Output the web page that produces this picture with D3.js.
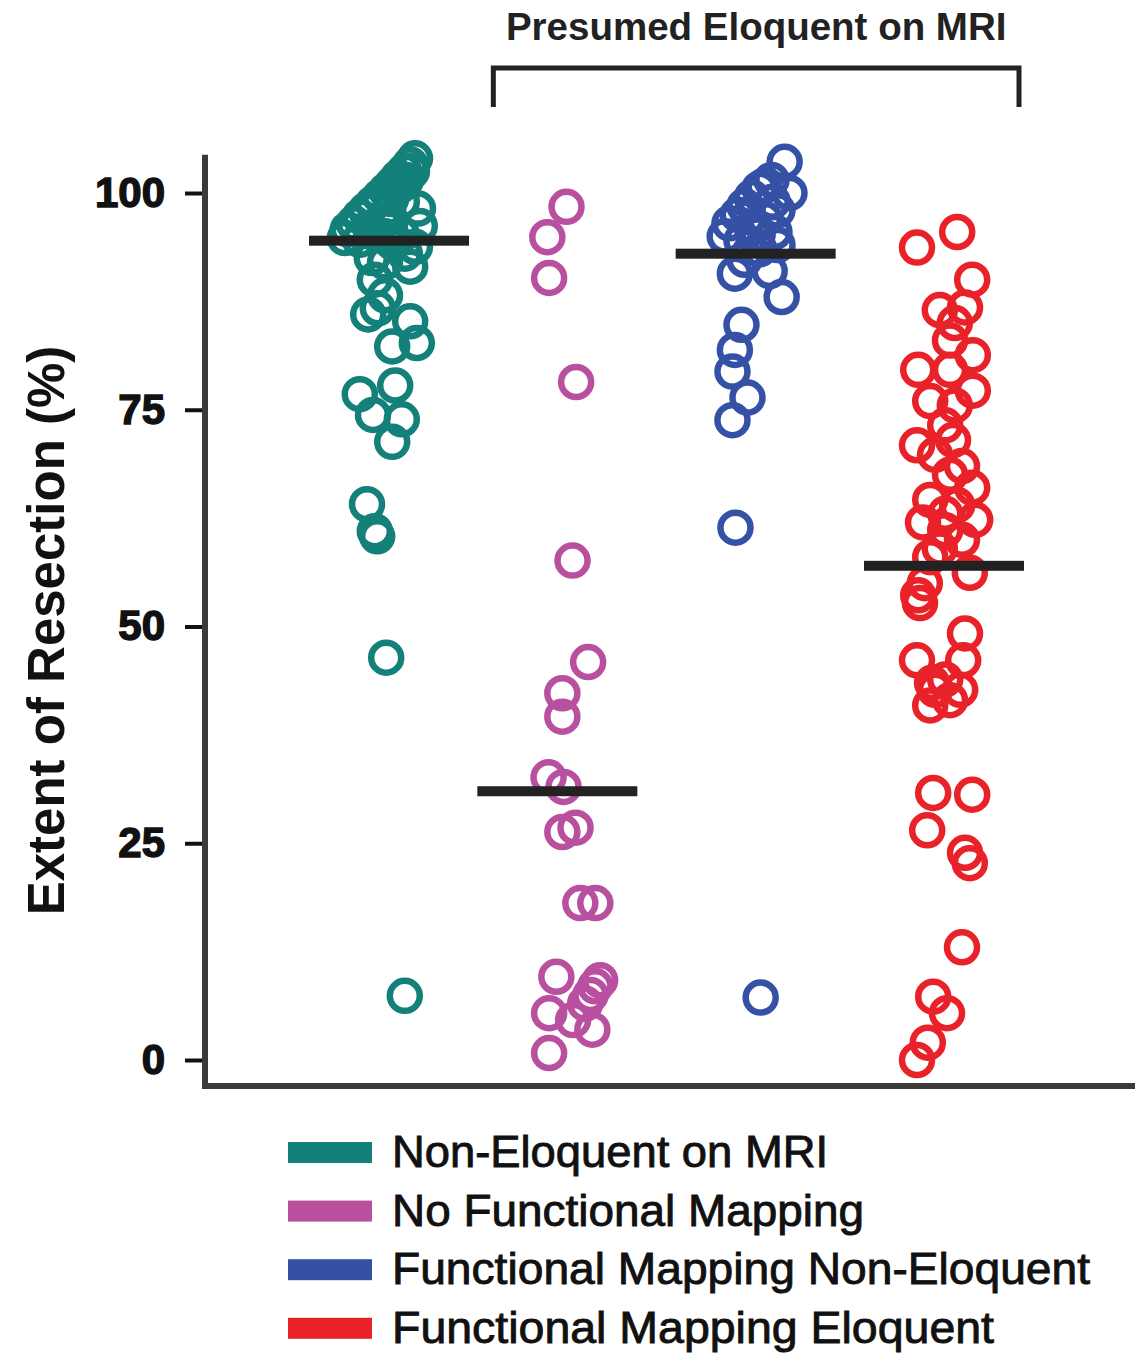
<!DOCTYPE html>
<html>
<head>
<meta charset="utf-8">
<script src="https://cdn.jsdelivr.net/npm/d3@7"></script>
<style>
  html, body { margin: 0; padding: 0; background: #fff; }
  svg { display: block; font-family: "Liberation Sans", Arial, Helvetica, sans-serif; }
</style>
</head>
<body>
<div id="chart"></div>
<script>
// groups in plot order
const groups = ['Non-Eloquent on MRI', 'No Functional Mapping', 'Functional Mapping Non-Eloquent', 'Functional Mapping Eloquent'];
const colors = ['#13807a', '#b8509f', '#3551a6', '#e92229'];
const yTicks = [0, 25, 50, 75, 100];
const medians = [94.5, 31, 93, 57];

// extent of resection (%) per patient, with the horizontal scatter (-1..1)
const nonEloquent = [104, 103.3, 102.5, 102.5, 101.8, 101.5, 101, 100.8, 100.3, 99.6, 99.3, 99, 98.8, 98.2, 98, 97.8, 97.3, 97, 96.8, 96.5, 96.2, 96, 95.8, 95.5, 95.2, 95, 94.8, 94.6, 94.3, 93.8, 93,
  92.5, 92, 91.5, 90, 88.2, 86.7, 86, 85.2, 82.7, 82.3, 77.8, 76.8, 74.4, 73.9, 71.3, 64.1, 61, 60.4, 46.4, 7.4];
const nonEloquentJit = [0.55, 0.47, 0.37, 0.5, 0.27, 0.4, 0.17, 0.3, 0.07, -0.03, 0.15, 0.33, -0.15, 0.6, -0.27, 0.1, -0.37, 0.1, 0.0, -0.47, 0.63, -0.2, -0.57, -0.17, 0.33, 0.05, -0.62, -0.37, 0.17, 0.55, 0.38,
  -0.17, 0.05, 0.47, -0.12, 0.05, -0.07, -0.23, 0.47, 0.58, 0.17, 0.22, -0.37, -0.15, 0.33, 0.17, -0.25, -0.12, -0.08, 0.07, 0.38];

const noMapping = [98.4, 94.9, 90.2, 78.2, 57.6, 45.9, 42.3, 39.6, 32.6, 31.5, 26.8, 26.3, 18.1, 18.1, 9.6, 9.2, 8.5, 7.5, 6.5, 5.4, 4.6, 3.5, 0.8];
const noMappingJit = [-0.03, -0.35, -0.32, 0.13, 0.07, 0.33, -0.1, -0.1, -0.33, -0.08, 0.12, -0.1, 0.2, 0.45, -0.2, 0.53, 0.45, 0.37, 0.28, -0.32, 0.08, 0.4, -0.32];

const mappingNonEloquent = [103.6, 101.5, 100.8, 100.5, 100, 99.5, 99, 98.5, 98, 97.5, 97.2, 97, 96.5, 96, 95.5, 95.2, 95, 94.5, 94, 93.5, 92.3, 91, 90.7, 88, 84.8, 81.9, 79.4, 76.4, 73.8, 61.4, 7.2];
const mappingNonEloquentJit = [0.5, 0.28, 0.15, 0.08, 0.58, -0.05, 0.3, -0.17, 0.38, -0.28, -0.1, 0.17, -0.42, -0.05, 0.33, 0.05, -0.5, -0.22, 0.38, 0.08, -0.17, 0.25, -0.33, 0.45, -0.22, -0.33, -0.37, -0.12, -0.37, -0.32, 0.1];

const mappingEloquent = [95.5, 93.7, 90, 86.5, 86.8, 85, 83, 81.3, 79.6, 79.6, 77.2, 76, 75.5, 73.2, 71.5, 70.9, 69.8, 68.5, 67.5, 66, 64.6, 64, 63, 62.3, 62, 61.1, 60, 59, 58,
  56.2, 55, 53.6, 52.7, 49.2, 46.1, 46.1, 43.9, 43.5, 42.7, 42.7, 41.5, 40.9, 30.8, 30.6, 26.5, 23.9, 22.7, 13, 7.3, 5.4, 2, 0];
const mappingEloquentJit = [0.27, -0.4, 0.52, -0.02, 0.4, 0.23, 0.15, 0.53, -0.38, 0.15, 0.53, -0.18, 0.23, 0.07, 0.2, -0.4, -0.1, 0.35, 0.15, 0.52, -0.18, 0.27, 0.07, 0.57, -0.3, 0.07, 0.35, -0.02, -0.18,
  0.48, -0.27, -0.38, -0.35, 0.4, -0.4, 0.37, 0.07, -0.15, -0.1, 0.32, 0.15, -0.18, -0.13, 0.52, -0.23, 0.4, 0.48, 0.35, -0.13, 0.1, -0.22, -0.4];

const seriesValues = [nonEloquent, noMapping, mappingNonEloquent, mappingEloquent];
const seriesJitter = [nonEloquentJit, noMappingJit, mappingNonEloquentJit, mappingEloquentJit];

const width = 1139;
const height = 1353;

const svg = d3.select('#chart')
  .append('svg')
  .attr('width', width)
  .attr('height', height);

const y = d3.scaleLinear().domain([0, 100]).range([1060, 193]);
const x = d3.scalePoint().domain(groups).range([382, 941]);
const jit = d3.scaleLinear().domain([-1, 1]).range([-60, 60]);

const axisColor = '#3a3a3a';

// bracket over the three eloquent groups
const bx0 = x(groups[1]) - 75;
const bx1 = x(groups[3]) + 78;
svg.append('path')
  .attr('d', `M${bx0},107V68H${bx1}V107`)
  .attr('fill', 'none')
  .attr('stroke', '#222')
  .attr('stroke-width', 5);
svg.append('text')
  .attr('x', (bx0 + bx1) / 2)
  .attr('y', 40)
  .attr('text-anchor', 'middle')
  .attr('font-size', 38.5)
  .attr('font-weight', 'bold')
  .attr('fill', '#222')
  .text('Presumed Eloquent on MRI');

// y axis ticks + labels
const yAxis = d3.axisLeft(y).tickValues(yTicks).tickSize(20).tickPadding(20);
const gy = svg.append('g')
  .attr('transform', 'translate(205,0)')
  .call(yAxis);
gy.select('.domain').remove();
gy.selectAll('.tick line').attr('stroke', '#111').attr('stroke-width', 4);
gy.selectAll('.tick text')
  .attr('font-size', 42)
  .attr('font-weight', 'bold')
  .attr('fill', '#111')
  .attr('stroke', '#111')
  .attr('stroke-width', 1.4)
  .attr('font-family', '"Liberation Sans", Arial, sans-serif');

// axis lines
svg.append('line')
  .attr('x1', 205).attr('x2', 205)
  .attr('y1', y(104.4)).attr('y2', y(-3.2))
  .attr('stroke', axisColor).attr('stroke-width', 6);
svg.append('line')
  .attr('x1', 202).attr('x2', 1135)
  .attr('y1', y(-3)).attr('y2', y(-3))
  .attr('stroke', axisColor).attr('stroke-width', 6);

// y title
svg.append('text')
  .attr('transform', `translate(64,${(y(0) + y(100)) / 2 + 4}) rotate(-90)`)
  .attr('text-anchor', 'middle')
  .attr('font-size', 51)
  .attr('font-weight', 'bold')
  .attr('fill', '#111')
  .text('Extent of Resection (%)');

// points
groups.forEach((g, i) => {
  const pts = seriesValues[i].map((v, k) => ({ v: v, j: seriesJitter[i][k] }));
  svg.append('g')
    .selectAll('circle')
    .data(pts)
    .join('circle')
    .attr('cx', d => x(g) + jit(d.j))
    .attr('cy', d => y(d.v))
    .attr('r', 15)
    .attr('fill', 'none')
    .attr('stroke', colors[i])
    .attr('stroke-width', 6.5);
});

// median bars
svg.append('g')
  .selectAll('rect')
  .data(medians)
  .join('rect')
  .attr('x', (d, i) => x(groups[i]) - 80 + [7, -11, 1, 3][i])
  .attr('y', d => y(d) - 5)
  .attr('width', 160)
  .attr('height', 10)
  .attr('fill', '#222');

// legend
const legend = svg.append('g')
  .selectAll('g')
  .data(groups)
  .join('g')
  .attr('transform', (d, i) => `translate(288,${1152 + i * 58.6})`);
legend.append('rect')
  .attr('x', 0)
  .attr('y', -10)
  .attr('width', 84)
  .attr('height', 21)
  .attr('fill', (d, i) => colors[i]);
legend.append('text')
  .attr('x', 104)
  .attr('y', 15)
  .attr('font-size', 45)
  .attr('textLength', (d, i) => [436, 472, 698, 602][i])
  .attr('lengthAdjust', 'spacingAndGlyphs')
  .attr('fill', '#111')
  .attr('stroke', '#111')
  .attr('stroke-width', 0.9)
  .text(d => d);
</script>
</body>
</html>
